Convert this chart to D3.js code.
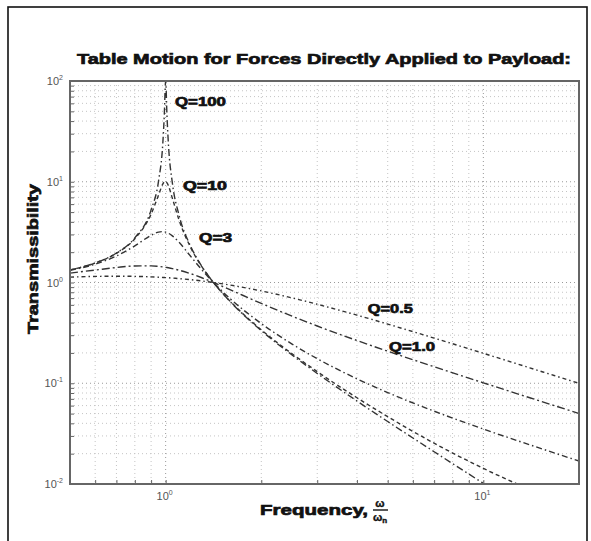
<!DOCTYPE html>
<html>
<head>
<meta charset="utf-8">
<script src="https://cdn.jsdelivr.net/npm/d3@7"></script>
<style>
  html, body { margin: 0; padding: 0; background: #fff; }
  svg { display: block; }
  text { font-family: "Liberation Sans", Arial, sans-serif; }
</style>
</head>
<body>
<svg id="chart" width="591" height="541"></svg>
<script>
// ---- data ----
const freq = [0.5,0.6,0.7,0.8,0.9,0.95,0.98,0.99,1.0,1.01,1.02,1.05,1.1,1.2,1.3,1.414,1.6,2,2.5,3,4,5,7,10,14,20];
const tQ100 = [1.333,1.5625,1.961,2.777,5.258,10.21,24.52,45.0,100,44.4,24.0,9.706,4.756,2.272,1.449,1.0,0.641,0.3334,0.1905,0.1251,0.0667,0.0417,0.0209,0.01015,0.00518,0.00256];
const tQ10 = [1.332,1.559,1.947,2.720,4.776,7.379,9.508,9.952,10.05,9.760,9.162,6.852,4.244,2.208,1.436,1.0,0.6458,0.3392,0.1961,0.1304,0.0718,0.0466,0.0254,0.01428,0.00882,0.0056];
const tQ3 = [1.320,1.521,1.831,2.310,2.940,3.166,3.197,3.185,3.162,3.129,3.085,2.905,2.521,1.811,1.338,1.0,0.6874,0.3911,0.2449,0.1754,0.1107,0.0808,0.0528,0.0351,0.0245,0.0169];
const tQ1 = [1.240,1.329,1.409,1.460,1.463,1.444,1.428,1.421,1.414,1.407,1.399,1.374,1.328,1.222,1.114,1.0,0.8443,0.6202,0.4631,0.3701,0.2656,0.2080,0.1458,0.1010,0.0718,0.0501];
const tQ05 = [1.131,1.149,1.155,1.151,1.138,1.129,1.122,1.120,1.118,1.116,1.114,1.106,1.094,1.066,1.036,1.0,0.9418,0.8246,0.7033,0.6083,0.4743,0.3865,0.2807,0.1983,0.1422,0.0998];

const seriesValues = [tQ100, tQ10, tQ3, tQ1, tQ05];
// curve labels and their anchor points (frequency, transmissibility)
const labelNames = ["Q=100", "Q=10", "Q=3", "Q=1.0", "Q=0.5"];
const labelFreq = [1.07, 1.134, 1.274, 5.05, 4.33];
const labelT = [56.5, 8.28, 2.52, 0.209, 0.497];
const labelWidth = [51, 44, 33, 46, 45];

const xTickVals = [1, 10];
const xTickExp = ["0", "1"];
const yTickVals = [0.01, 0.1, 1, 10, 100];
const yTickExp = ["-2", "-1", "0", "1", "2"];

const titleText = "Table Motion for Forces Directly Applied to Payload:";
const yLabel = "Transmissibility";

// ---- layout ----
const svg = d3.select("#chart");
const L = 70, R = 579, T = 81, B = 484;

const x = d3.scaleLog().domain([0.5, 20]).range([L, R]);
const y = d3.scaleLog().domain([0.01, 100]).range([B, T]);

// outer frame
svg.append("rect").attr("x", 8).attr("y", 7).attr("width", 579).attr("height", 560)
  .attr("fill", "none").attr("stroke", "#111").attr("stroke-width", 1.6);

// grid (major + minor)
const xGrid = [];
[0.1, 1, 10].forEach(d => { for (let k = 1; k <= 9; k++) { const v = d * k; if (v > 0.5 && v < 20) xGrid.push(v); } });
const yGrid = [];
[0.01, 0.1, 1, 10].forEach(d => { for (let k = 1; k <= 9; k++) { const v = d * k; if (v > 0.01 && v < 100) yGrid.push(v); } });

const grid = svg.append("g");
grid.selectAll(".gx").data(xGrid).join("line")
  .attr("x1", d => x(d)).attr("x2", d => x(d)).attr("y1", T).attr("y2", B)
  .attr("stroke", d => xTickVals.includes(d) ? "#999" : "#c4c4c4")
  .attr("stroke-width", 1).attr("stroke-dasharray", "1,3");
grid.selectAll(".gy").data(yGrid).join("line")
  .attr("y1", d => y(d)).attr("y2", d => y(d)).attr("x1", L).attr("x2", R)
  .attr("stroke", d => yTickVals.includes(d) ? "#999" : "#c4c4c4")
  .attr("stroke-width", 1).attr("stroke-dasharray", "1,3");

// curves
svg.append("clipPath").attr("id", "clip").append("rect")
  .attr("x", L).attr("y", T).attr("width", R - L).attr("height", B - T);

const dashes = ["7,3,1.5,3", "4,3", "6,3,1.5,3", "8,3,2,3", "4,3,1.5,3"];
const line = d3.line().x(d => x(d[0])).y(d => y(d[1])).curve(d3.curveMonotoneX);
const curves = svg.append("g").attr("clip-path", "url(#clip)");
seriesValues.forEach((vals, i) => {
  curves.append("path")
    .datum(freq.map((f, j) => [f, vals[j]]))
    .attr("d", line)
    .attr("fill", "none")
    .attr("stroke", "#333")
    .attr("stroke-width", 1.4)
    .attr("stroke-dasharray", dashes[i]);
});

// axes box
svg.append("rect").attr("x", L).attr("y", T).attr("width", R - L).attr("height", B - T)
  .attr("fill", "none").attr("stroke", "#666").attr("stroke-width", 2);

// axes ticks via d3 axes (no labels, drawn inward)
const xAxis = d3.axisBottom(x).tickValues(xGrid).tickSize(-4).tickFormat("");
svg.append("g").attr("transform", `translate(0,${B})`).call(xAxis)
  .call(g => g.select(".domain").remove())
  .selectAll("line").attr("stroke", "#666");
const yAxis = d3.axisLeft(y).tickValues(yGrid).tickSize(-4).tickFormat("");
svg.append("g").attr("transform", `translate(${L},0)`).call(yAxis)
  .call(g => g.select(".domain").remove())
  .selectAll("line").attr("stroke", "#666");

// tick labels
const yl = svg.append("g");
yTickVals.forEach((v, i) => {
  const t = yl.append("text").attr("x", L - 7).attr("y", y(v) + 4)
    .attr("text-anchor", "end").attr("font-size", 11).attr("fill", "#555");
  t.append("tspan").text("10");
  t.append("tspan").attr("dy", -5).attr("font-size", 7).text(yTickExp[i]);
});
const xl = svg.append("g");
xTickVals.forEach((v, i) => {
  const t = xl.append("text").attr("x", x(v) - 1).attr("y", B + 16)
    .attr("text-anchor", "middle").attr("font-size", 11).attr("fill", "#555");
  t.append("tspan").text("10");
  t.append("tspan").attr("dy", -5).attr("font-size", 7).text(xTickExp[i]);
});

// heavy text helper
function heavy(sel) {
  return sel.attr("font-weight", "bold").attr("fill", "#111")
    .attr("stroke", "#111").attr("stroke-width", 0.7).attr("paint-order", "stroke");
}

// series labels
labelNames.forEach((n, i) => {
  heavy(svg.append("text").attr("x", x(labelFreq[i])).attr("y", y(labelT[i]))
    .attr("font-size", 13)
    .attr("textLength", labelWidth[i]).attr("lengthAdjust", "spacingAndGlyphs"))
    .text(n);
});

// title
heavy(svg.append("text").attr("x", 324).attr("y", 64).attr("text-anchor", "middle")
  .attr("font-size", 15)
  .attr("textLength", 494).attr("lengthAdjust", "spacingAndGlyphs"))
  .text(titleText);

// y label
heavy(svg.append("text").attr("transform", `translate(38,259) rotate(-90)`)
  .attr("text-anchor", "middle").attr("font-size", 15)
  .attr("textLength", 150).attr("lengthAdjust", "spacingAndGlyphs"))
  .text(yLabel);

// x label with fraction
const xlab = svg.append("g");
heavy(xlab.append("text").attr("x", 260).attr("y", 515)
  .attr("font-size", 15)
  .attr("textLength", 108).attr("lengthAdjust", "spacingAndGlyphs"))
  .text("Frequency,");
heavy(xlab.append("text").attr("x", 380).attr("y", 507).attr("text-anchor", "middle")
  .attr("font-size", 11)).attr("stroke-width", 0.4).text("ω");
xlab.append("line").attr("x1", 373).attr("x2", 388).attr("y1", 510).attr("y2", 510)
  .attr("stroke", "#111").attr("stroke-width", 1.4);
const den = heavy(xlab.append("text").attr("x", 380).attr("y", 521).attr("text-anchor", "middle")
  .attr("font-size", 11)).attr("stroke-width", 0.4);
den.append("tspan").text("ω");
den.append("tspan").attr("font-size", 8).attr("dy", 2).text("n");
</script>
</body>
</html>
